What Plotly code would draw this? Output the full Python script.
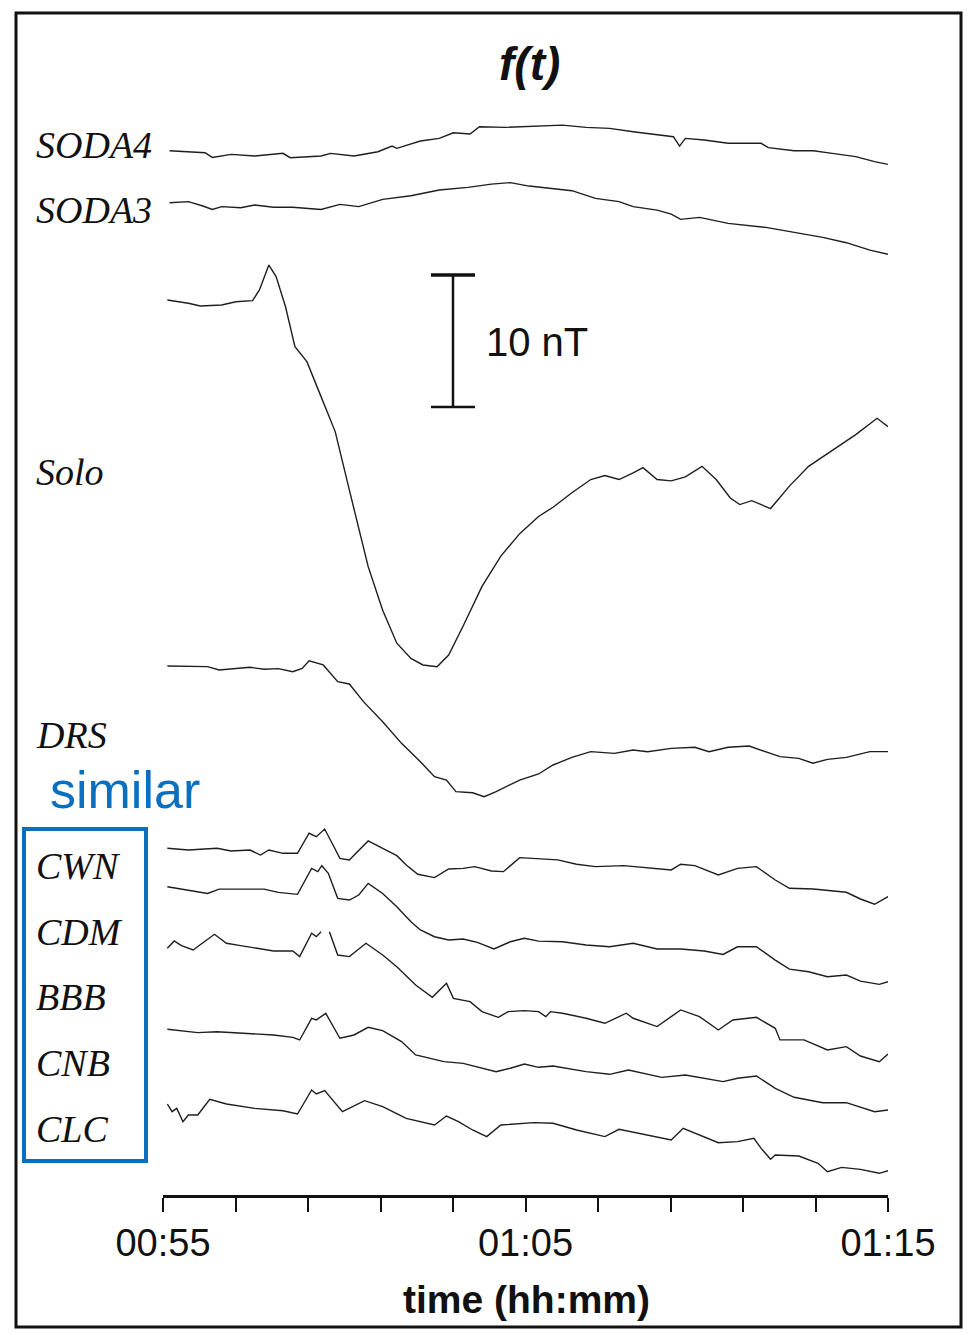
import plotly.graph_objects as go

# ---------------- data (time in minutes after 00:55, values in nT relative to trace start) -------------
soda4_t = [0.18, 1.16, 1.36, 1.88, 2.53, 3.31, 3.51, 4.36, 4.62, 5.27, 5.93, 6.32, 6.45, 7.10, 7.62, 8.01,
           8.47, 8.73, 9.45, 10.36, 11.02, 11.67, 12.32, 12.97, 13.63, 14.08, 14.25, 14.41, 14.93, 15.59,
           16.50, 16.70, 17.41, 17.94, 18.46, 19.11, 19.63, 20.0]
soda4_v = [0, -0.15, -0.51, -0.28, -0.40, -0.20, -0.53, -0.40, -0.20, -0.40, -0.08, 0.35, 0.18, 0.73, 0.93, 1.36,
           1.26, 1.82, 1.77, 1.89, 1.94, 1.77, 1.69, 1.44, 1.19, 1.06, 0.35, 0.93, 0.81, 0.56,
           0.56, 0.23, 0, 0, -0.20, -0.45, -0.83, -1.04]

soda3_t = [0.18, 0.70, 1.10, 1.36, 1.62, 2.14, 2.53, 3.05, 3.58, 4.36, 4.88, 5.40, 6.06, 6.84, 7.62, 8.41,
           9.06, 9.58, 10.10, 10.76, 11.28, 11.93, 12.58, 12.97, 13.63, 14.02, 14.28, 14.80, 15.59, 16.63,
           17.41, 18.20, 18.85, 19.50, 20.0]
soda3_v = [0, 0.08, -0.25, -0.51, -0.30, -0.38, -0.18, -0.35, -0.35, -0.51, -0.13, -0.30, 0.25, 0.53, 0.96, 1.16,
           1.41, 1.52, 1.26, 1.09, 0.91, 0.33, 0.08, -0.30, -0.56, -0.86, -1.26, -1.11, -1.57, -1.87,
           -2.27, -2.63, -3.03, -3.59, -3.91]

solo_t = [0.12, 0.70, 1.03, 1.62, 2.01, 2.47, 2.66, 2.92, 3.12, 3.38, 3.64, 3.97, 4.36, 4.75, 5.14, 5.66,
          6.06, 6.45, 6.84, 7.17, 7.56, 7.88, 8.28, 8.80, 9.32, 9.84, 10.36, 10.76, 11.28, 11.80, 12.19,
          12.58, 12.97, 13.24, 13.63, 14.02, 14.41, 14.87, 15.26, 15.65, 15.91, 16.24, 16.76, 17.28, 17.81,
          18.59, 19.11, 19.70, 20.0]
solo_v = [0, -0.25, -0.45, -0.38, -0.13, -0.05, 0.76, 2.65, 1.77, -0.51, -3.54, -4.67, -7.32, -9.97, -14.39, -20.2,
          -23.5, -26.0, -27.15, -27.65, -27.78, -26.9, -24.7, -21.7, -19.4, -17.7, -16.4, -15.7, -14.6, -13.6, -13.3,
          -13.6, -13.1, -12.7, -13.6, -13.7, -13.4, -12.6, -13.6, -15.0, -15.5, -15.2, -15.8, -14.1, -12.6,
          -11.2, -10.2, -8.96, -9.6]

drs_t = [0.12, 1.23, 1.55, 2.01, 2.40, 2.79, 3.18, 3.58, 3.84, 4.03, 4.42, 4.82, 5.14, 5.53, 6.06, 6.58,
         7.10, 7.49, 7.82, 8.08, 8.54, 8.86, 9.19, 9.84, 10.36, 10.76, 11.28, 11.80, 12.45, 12.97, 13.37,
         14.02, 14.67, 15.06, 15.59, 16.17, 16.50, 17.02, 17.54, 17.93, 18.33, 18.85, 19.50, 20.0]
drs_v = [0, -0.05, -0.30, -0.18, -0.10, -0.25, -0.20, -0.43, -0.18, 0.40, 0.08, -1.19, -1.36, -2.70, -4.22, -5.86,
         -7.25, -8.38, -8.64, -9.52, -9.60, -9.90, -9.52, -8.64, -8.18, -7.50, -6.92, -6.49, -6.62, -6.36, -6.49,
         -6.24, -6.16, -6.49, -6.16, -6.06, -6.36, -6.87, -7.00, -7.37, -7.07, -6.92, -6.49, -6.49]

cwn_t = [0.12, 0.70, 1.49, 1.88, 2.40, 2.69, 2.92, 3.31, 3.71, 4.03, 4.23, 4.46, 4.69, 4.88, 5.14, 5.40,
         5.66, 6.06, 6.45, 6.71, 7.03, 7.49, 7.88, 8.28, 8.60, 9.06, 9.39, 9.84, 10.36, 10.89, 11.41,
         11.93, 12.71, 13.63, 14.02, 14.28, 14.67, 15.32, 15.85, 16.37, 16.89, 17.28, 17.94, 18.85, 19.24,
         19.63, 20.0]
cwn_v = [0, -0.13, 0, -0.20, -0.13, -0.51, -0.13, -0.38, -0.38, 1.14, 0.88, 1.46, 0.25, -0.76, -0.88, -0.13,
         0.56, 0, -0.56, -1.26, -1.97, -2.22, -1.57, -1.52, -1.39, -1.72, -1.77, -0.71, -0.81, -0.88, -1.21,
         -1.39, -1.31, -1.52, -1.64, -1.21, -1.31, -2.02, -1.52, -1.39, -2.40, -3.03, -3.08, -3.33, -3.84,
         -4.24, -3.66]

cdm_t = [0.12, 0.70, 1.23, 1.55, 2.14, 2.79, 3.18, 3.71, 4.10, 4.27, 4.38, 4.56, 4.82, 5.14, 5.40, 5.66,
         6.06, 6.45, 6.84, 7.10, 7.49, 7.88, 8.28, 8.67, 9.13, 9.58, 9.97, 10.36, 11.02, 11.67, 12.32,
         12.97, 13.63, 14.28, 14.93, 15.45, 15.85, 16.37, 16.89, 17.28, 17.81, 18.33, 18.85, 19.24, 19.76, 20.0]
cdm_v = [0, -0.25, -0.51, -0.18, -0.18, -0.18, -0.43, -0.58, 1.39, 1.14, 1.59, 1.01, -0.88, -1.01, -0.63, 0.25,
         -0.51, -1.52, -2.65, -3.28, -3.79, -4.04, -3.96, -4.22, -4.72, -4.17, -3.91, -4.12, -4.17, -4.42, -4.55,
         -4.29, -4.72, -4.72, -4.87, -5.13, -4.55, -4.55, -5.56, -6.24, -6.44, -6.82, -6.69, -7.15, -7.40, -7.20]

# None marks the break in the BBB record
bbb_t = [0.12, 0.31, 0.51, 0.83, 1.42, 1.75, 2.14, 2.53, 3.05, 3.58, 3.77, 4.10, 4.23, 4.36, 4.47, 4.59,
         4.82, 5.14, 5.60, 6.06, 6.45, 6.97, 7.43, 7.82, 8.01, 8.47, 8.80, 9.25, 9.52, 9.97, 10.36, 10.56,
         10.69, 11.02, 11.67, 12.19, 12.78, 12.97, 13.63, 14.28, 14.80, 15.32, 15.72, 16.37, 16.89, 17.02,
         17.68, 18.33, 18.85, 19.24, 19.76, 20.0]
bbb_v = [0, 0.56, 0.20, -0.13, 1.06, 0.38, 0.20, 0.05, -0.20, -0.20, -0.63, 1.14, 0.88, 1.26, None, 1.26,
         -0.51, -0.63, 0.38, -0.51, -1.39, -2.78, -3.71, -2.65, -3.79, -4.04, -4.80, -5.23, -4.80, -4.72, -4.80, -5.18,
         -4.80, -4.92, -5.30, -5.68, -4.92, -5.30, -5.93, -4.67, -5.18, -6.19, -5.43, -5.23, -6.06, -6.94,
         -6.94, -7.70, -7.45, -8.16, -8.59, -8.01]

cnb_t = [0.12, 0.96, 1.49, 2.27, 3.05, 3.58, 3.77, 4.10, 4.23, 4.49, 4.88, 5.27, 5.66, 6.06, 6.58, 6.97,
         7.75, 8.28, 9.19, 9.58, 9.97, 10.36, 10.76, 11.67, 12.32, 12.84, 13.76, 14.41, 14.93, 15.45, 15.85,
         16.37, 16.89, 17.41, 18.20, 18.85, 19.63, 20.0]
cnb_v = [0, -0.25, -0.18, -0.30, -0.43, -0.61, -0.81, 0.83, 0.71, 1.21, -0.68, -0.43, 0.15, -0.10, -0.93, -1.94,
         -2.45, -2.58, -3.21, -2.95, -2.63, -2.88, -2.78, -3.21, -3.41, -3.08, -3.64, -3.46, -3.71, -3.96, -3.71,
         -3.54, -4.47, -5.15, -5.56, -5.56, -6.24, -6.11]

clc_t = [0.12, 0.25, 0.38, 0.55, 0.70, 0.96, 1.29, 1.75, 2.53, 3.31, 3.71, 4.10, 4.23, 4.46, 4.95, 5.56,
         6.06, 6.71, 7.49, 7.82, 8.15, 8.54, 8.93, 9.32, 10.23, 10.76, 11.41, 12.19, 12.58, 13.50, 14.02,
         14.35, 14.80, 15.32, 15.85, 16.30, 16.50, 16.76, 16.89, 17.54, 18.07, 18.33, 18.72, 19.24, 19.76, 20.0]
clc_v = [0, -0.58, -0.33, -1.34, -0.83, -0.83, 0.35, 0, -0.33, -0.51, -0.76, 1.06, 0.76, 1.01, -0.58, 0.25,
         -0.20, -1.09, -1.59, -0.91, -1.34, -1.97, -2.47, -1.59, -1.41, -1.46, -1.97, -2.47, -1.92, -2.47, -2.73,
         -1.84, -2.35, -2.93, -2.85, -2.60, -3.36, -4.19, -3.86, -3.94, -4.49, -5.13, -4.80, -4.95, -5.25, -5.05]

station_names = ["SODA4", "SODA3", "Solo", "DRS", "CWN", "CDM", "BBB", "CNB", "CLC"]
tick_vals = [0, 2, 4, 6, 8, 10, 12, 14, 16, 18, 20]
tick_text = ["00:55", "", "", "", "", "01:05", "", "", "", "", "01:15"]
scale_nt = 10

# ---------------- layout helpers (all positions given in page pixels) ----------------
OFF = 8                          # default page margin of the html body
W, H = 971 - OFF, 1333 - OFF     # figure size so that it fits the viewport
X0PX, X1PX = 163, 888            # plot area left/right (page pixels)
YTOP, YBOT = 95, 1195            # plot area top/bottom (page pixels)
PX_PER_NT = 13.2
XMAX = 20.0
YMAX = (YBOT - YTOP) / PX_PER_NT

def py2y(py):
    return (YBOT - py) / PX_PER_NT

def px2paper(px):
    return (px - X0PX) / (X1PX - X0PX)

def py2paper(py):
    return (YBOT - py) / (YBOT - YTOP)

offsets = {"SODA4": py2y(150.7), "SODA3": py2y(202.7), "Solo": py2y(300), "DRS": py2y(666),
           "CWN": py2y(848.3), "CDM": py2y(886.7), "BBB": py2y(948.3), "CNB": py2y(1029.3), "CLC": py2y(1104)}
label_py = {"SODA4": 145, "SODA3": 210, "Solo": 472, "DRS": 735, "CWN": 866,
            "CDM": 932, "BBB": 997, "CNB": 1063, "CLC": 1129}

series = {"SODA4": (soda4_t, soda4_v), "SODA3": (soda3_t, soda3_v), "Solo": (solo_t, solo_v),
          "DRS": (drs_t, drs_v), "CWN": (cwn_t, cwn_v), "CDM": (cdm_t, cdm_v), "BBB": (bbb_t, bbb_v),
          "CNB": (cnb_t, cnb_v), "CLC": (clc_t, clc_v)}

fig = go.Figure()
for name in station_names:
    t, v = series[name]
    off = offsets[name]
    y = [None if val is None else val + off for val in v]
    fig.add_trace(go.Scatter(x=t, y=y, mode="lines", name=name, showlegend=False,
                             line=dict(color="#1e1e1e", width=1.4), hoverinfo="skip",
                             connectgaps=False))

BLUE = "#0B6FC0"
SANS = "Liberation Sans, Arial, sans-serif"
annotations = []
for name in station_names:
    annotations.append(dict(x=px2paper(34), xref="paper", y=py2y(label_py[name]), yref="y",
                            text=f"<i>{name}</i>", showarrow=False, xanchor="left", yanchor="middle",
                            font=dict(family="Liberation Serif, Times New Roman, serif", size=38, color="#111")))

annotations += [
    dict(x=px2paper(529), xref="paper", y=py2paper(64), yref="paper", text="<b><i>f(t)</i></b>",
         showarrow=False, xanchor="center", yanchor="middle",
         font=dict(family=SANS, size=46, color="#111")),
    dict(x=px2paper(526), xref="paper", y=py2paper(1299), yref="paper", text="<b>time (hh:mm)</b>",
         showarrow=False, xanchor="center", yanchor="middle",
         font=dict(family=SANS, size=39, color="#111")),
    dict(x=px2paper(484), xref="paper", y=py2y(342), yref="y", text="10 nT",
         showarrow=False, xanchor="left", yanchor="middle",
         font=dict(family=SANS, size=40, color="#111")),
    dict(x=px2paper(48), xref="paper", y=py2paper(790), yref="paper", text="similar",
         showarrow=False, xanchor="left", yanchor="middle",
         font=dict(family=SANS, size=52, color=BLUE)),
]

# scale bar (10 nT) at 8 min
bar_x = 8.0
bar_bottom = py2y(407)
bar_top = bar_bottom + scale_nt
cap = 22 / ((X1PX - X0PX) / XMAX)
shapes = [
    dict(type="line", xref="x", yref="y", x0=bar_x, x1=bar_x, y0=bar_bottom, y1=bar_top,
         line=dict(color="#111", width=2.5)),
    dict(type="line", xref="x", yref="y", x0=bar_x - cap, x1=bar_x + cap, y0=bar_top, y1=bar_top,
         line=dict(color="#111", width=3.5)),
    dict(type="line", xref="x", yref="y", x0=bar_x - cap, x1=bar_x + cap, y0=bar_bottom, y1=bar_bottom,
         line=dict(color="#111", width=2.5)),
    # outer frame
    dict(type="rect", xref="paper", yref="paper", x0=px2paper(16), x1=px2paper(961),
         y0=py2paper(1327), y1=py2paper(13), line=dict(color="#111", width=3)),
    # blue "similar" box
    dict(type="rect", xref="paper", yref="paper", x0=px2paper(24), x1=px2paper(146),
         y0=py2paper(1161), y1=py2paper(829), line=dict(color=BLUE, width=4)),
]

fig.update_layout(
    width=W, height=H,
    margin=dict(l=X0PX - OFF, r=(W + OFF) - X1PX, t=YTOP - OFF, b=(H + OFF) - YBOT, pad=0),
    paper_bgcolor="white", plot_bgcolor="white",
    annotations=annotations, shapes=shapes,
    xaxis=dict(range=[0, XMAX], tickvals=tick_vals, ticktext=tick_text, ticks="outside",
               ticklen=14, tickwidth=2, tickcolor="#111", showline=True, linecolor="#111", linewidth=3,
               showgrid=False, zeroline=False, ticklabelstandoff=-2,
               tickfont=dict(family=SANS, size=38, color="#111")),
    yaxis=dict(range=[0, YMAX], visible=False, showgrid=False, zeroline=False),
)

fig.write_html("out.html")
